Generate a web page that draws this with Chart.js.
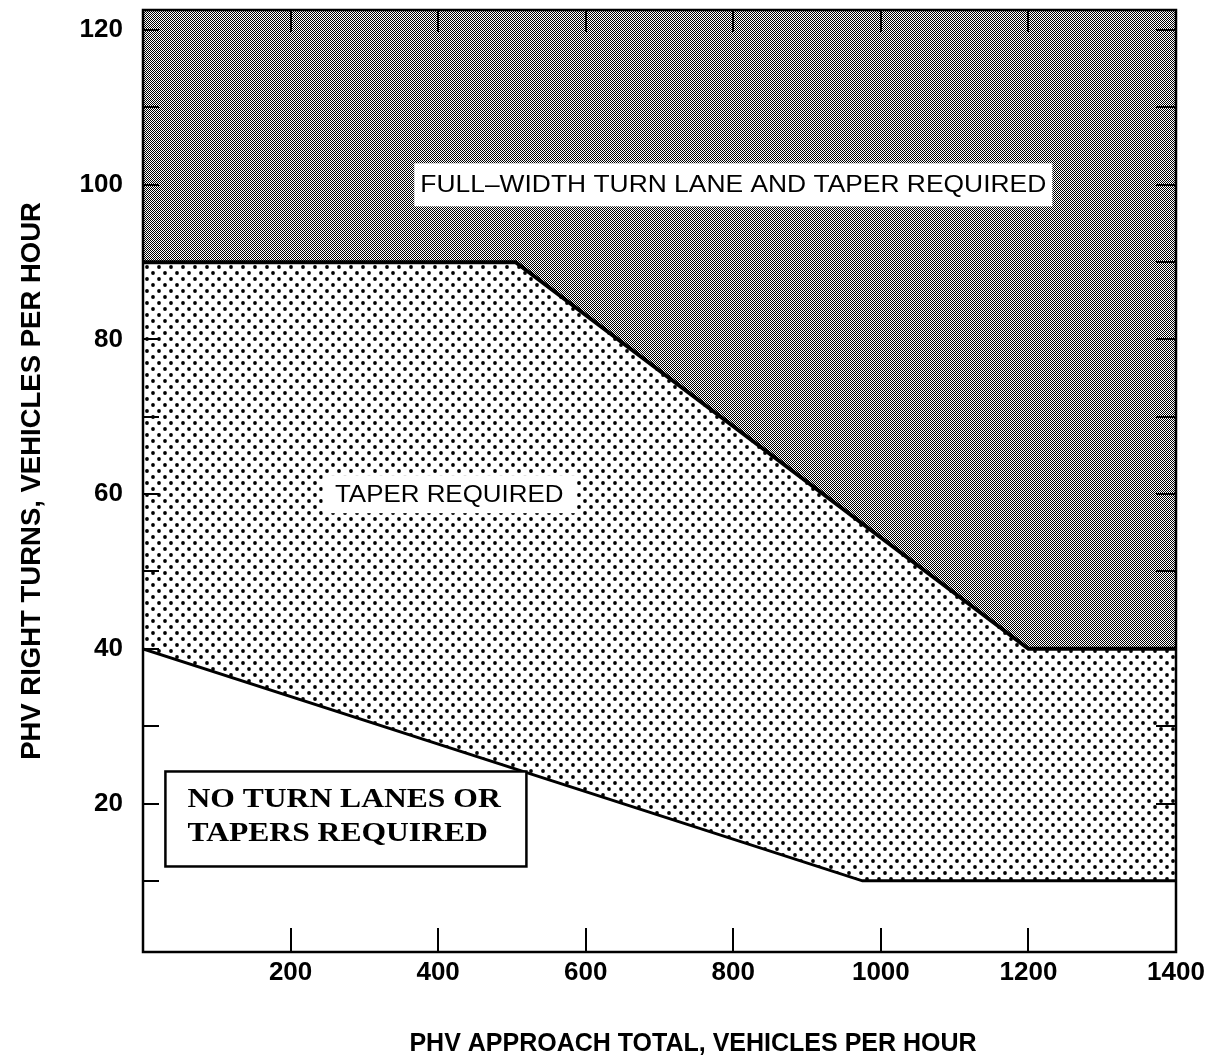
<!DOCTYPE html>
<html>
<head>
<meta charset="utf-8">
<title>Right-turn lane warrant</title>
<script src="https://cdn.jsdelivr.net/npm/chart.js@4.4.1/dist/chart.umd.min.js"></script>
<style>
  html, body { margin: 0; padding: 0; background: #fff; }
  canvas { display: block; }
</style>
</head>
<body>
<canvas id="warrant" width="1225" height="1059"></canvas>
<script>
// Boundary between "taper required" and "full-width turn lane" (approach volume vs right turns)
const upperVolume = [0, 505, 1200, 1400];
const upperTurns  = [90, 90, 40, 40];

// Boundary between "no turn lane" and "taper required"
const lowerVolume = [0, 975, 1400];
const lowerTurns  = [40, 10, 10];

// Axis ticks
const xTickValues  = [200, 400, 600, 800, 1000, 1200, 1400];
const yTickValues  = [10, 20, 30, 40, 50, 60, 70, 80, 90, 100, 110, 120];
const yLabelValues = [20, 40, 60, 80, 100, 120];

// Region captions, anchored in data coordinates
const captionLines   = [
  ['FULL\u2013WIDTH TURN LANE AND TAPER REQUIRED'],
  ['TAPER REQUIRED'],
  ['NO TURN LANES OR', 'TAPERS REQUIRED']
];
const captionVolume  = [800, 415, 275];
const captionTurns   = [100, 60, 18];

const xTitle = 'PHV APPROACH TOTAL, VEHICLES PER HOUR';
const yTitle = 'PHV RIGHT TURNS, VEHICLES PER HOUR';

// ---- fill patterns ----
function makePattern(size, paint) {
  const c = document.createElement('canvas');
  c.width = size; c.height = size;
  const g = c.getContext('2d');
  g.fillStyle = '#fff';
  g.fillRect(0, 0, size, size);
  paint(g);
  return g.createPattern(c, 'repeat');
}
// fine checkerboard screen for the full-width region
const darkScreen = makePattern(2, g => {
  g.fillStyle = '#000';
  g.fillRect(0, 0, 1, 1);
  g.fillRect(1, 1, 1, 1);
});
// staggered dot screen for the taper region
const dotScreen = makePattern(12, g => {
  g.fillStyle = '#000';
  [[3, 3], [9, 9]].forEach(([cx, cy]) => {
    g.beginPath();
    g.arc(cx, cy, 1.9, 0, Math.PI * 2);
    g.fill();
  });
});

// ---- caption styling ----
const captionStyle = [
  { font: '24px "Liberation Sans", Arial, sans-serif', stretch: 1.1, boxW: 638, boxH: 43, border: 0, align: 'center', lineOffsets: [1] },
  { font: '24px "Liberation Sans", Arial, sans-serif', stretch: 1.08, boxW: 253, boxH: 38, border: 0, align: 'center', lineOffsets: [1] },
  { font: 'bold 27px "Liberation Serif", "Times New Roman", serif', stretch: 1.17, boxW: 361, boxH: 95, border: 2.5, align: 'left', textInset: 22, lineOffsets: [-19, 15] }
];

const frameAndLabels = {
  id: 'frameAndLabels',
  afterDatasetsDraw(chart) {
    const { ctx, chartArea: { left, right, top, bottom }, scales: { x, y } } = chart;
    ctx.save();
    ctx.strokeStyle = '#000';
    ctx.lineCap = 'butt';

    const seg = (x1, y1, x2, y2) => { ctx.beginPath(); ctx.moveTo(x1, y1); ctx.lineTo(x2, y2); ctx.stroke(); };

    // inward tick marks on all four sides
    ctx.lineWidth = 2;
    x.ticks.forEach(t => {
      if (t.value <= x.min || t.value >= x.max) return;
      const px = Math.round(x.getPixelForValue(t.value));
      seg(px, bottom, px, bottom - 24);
      seg(px, top, px, top + 22);
    });
    y.ticks.forEach(t => {
      if (t.value <= y.min || t.value >= y.max) return;
      const py = Math.round(y.getPixelForValue(t.value));
      seg(left, py, left + 16, py);
      seg(right, py, right - 20, py);
    });

    // plot frame
    ctx.lineWidth = 2.5;
    ctx.strokeRect(left, top, right - left, bottom - top);

    // region captions
    captionLines.forEach((lines, i) => {
      const st = captionStyle[i];
      const cx = x.getPixelForValue(captionVolume[i]);
      const cy = y.getPixelForValue(captionTurns[i]);
      const bx = cx - st.boxW / 2, by = cy - st.boxH / 2;
      ctx.fillStyle = '#fff';
      ctx.fillRect(bx, by, st.boxW, st.boxH);
      if (st.border) {
        ctx.lineWidth = st.border;
        ctx.strokeRect(bx, by, st.boxW, st.boxH);
      }
      ctx.fillStyle = '#000';
      ctx.font = st.font;
      ctx.textBaseline = 'middle';
      lines.forEach((txt, k) => {
        const ty = cy + st.lineOffsets[k];
        ctx.save();
        if (st.align === 'center') {
          ctx.translate(cx, ty);
          ctx.scale(st.stretch, 1);
          ctx.textAlign = 'center';
        } else {
          ctx.translate(bx + st.textInset, ty);
          ctx.scale(st.stretch, 1);
          ctx.textAlign = 'left';
        }
        ctx.fillText(txt, 0, 0);
        ctx.restore();
      });
    });
    ctx.restore();
  },
  afterDraw(chart) {
    const { ctx } = chart;
    ctx.save();
    ctx.fillStyle = '#000';
    ctx.textAlign = 'center';
    ctx.textBaseline = 'middle';
    ctx.font = 'bold 25px "Liberation Sans", Arial, sans-serif';
    ctx.fillText(xTitle, 693, 1044);
    ctx.translate(32, 481);
    ctx.rotate(-Math.PI / 2);
    ctx.font = 'bold 27.5px "Liberation Sans", Arial, sans-serif';
    ctx.fillText(yTitle, 0, 0);
    ctx.restore();
  }
};

const tickFont = { family: '"Liberation Sans", Arial, sans-serif', size: 26, weight: 'bold' };

new Chart(document.getElementById('warrant'), {
  type: 'line',
  data: {
    datasets: [
      {
        label: 'Full-width turn lane threshold',
        data: upperVolume.map((v, i) => ({ x: v, y: upperTurns[i] })),
        borderColor: '#000',
        borderWidth: 4,
        backgroundColor: darkScreen,
        fill: 'end',
        pointRadius: 0,
        tension: 0
      },
      {
        label: 'Taper threshold',
        data: lowerVolume.map((v, i) => ({ x: v, y: lowerTurns[i] })),
        borderColor: '#000',
        borderWidth: 3,
        backgroundColor: dotScreen,
        fill: '-1',
        pointRadius: 0,
        tension: 0
      }
    ]
  },
  options: {
    responsive: false,
    animation: false,
    events: [],
    layout: { autoPadding: false, padding: { top: 10, right: 49, left: 0, bottom: 0 } },
    plugins: { legend: { display: false }, tooltip: { enabled: false } },
    scales: {
      x: {
        type: 'linear',
        min: 0,
        max: 1400,
        afterBuildTicks: s => { s.ticks = xTickValues.map(v => ({ value: v })); },
        afterFit: s => { s.height = 107; s.paddingLeft = 0; s.paddingRight = 0; s.paddingTop = 0; s.paddingBottom = 0; },
        grid: { display: false, drawTicks: false },
        border: { display: false },
        ticks: { font: tickFont, color: '#000', padding: 5, maxRotation: 0, autoSkip: false, callback: v => String(v) }
      },
      y: {
        type: 'linear',
        min: 0.8,
        max: 122.6,
        afterBuildTicks: s => { s.ticks = yTickValues.map(v => ({ value: v })); },
        afterFit: s => { s.width = 143; s.paddingTop = 0; s.paddingBottom = 0; s.paddingLeft = 0; s.paddingRight = 0; },
        grid: { display: false, drawTicks: false },
        border: { display: false },
        ticks: {
          font: tickFont,
          color: '#000',
          padding: 20,
          autoSkip: false,
          callback: v => yLabelValues.includes(v) ? String(v) : ''
        }
      }
    }
  },
  plugins: [frameAndLabels]
});
</script>
</body>
</html>
